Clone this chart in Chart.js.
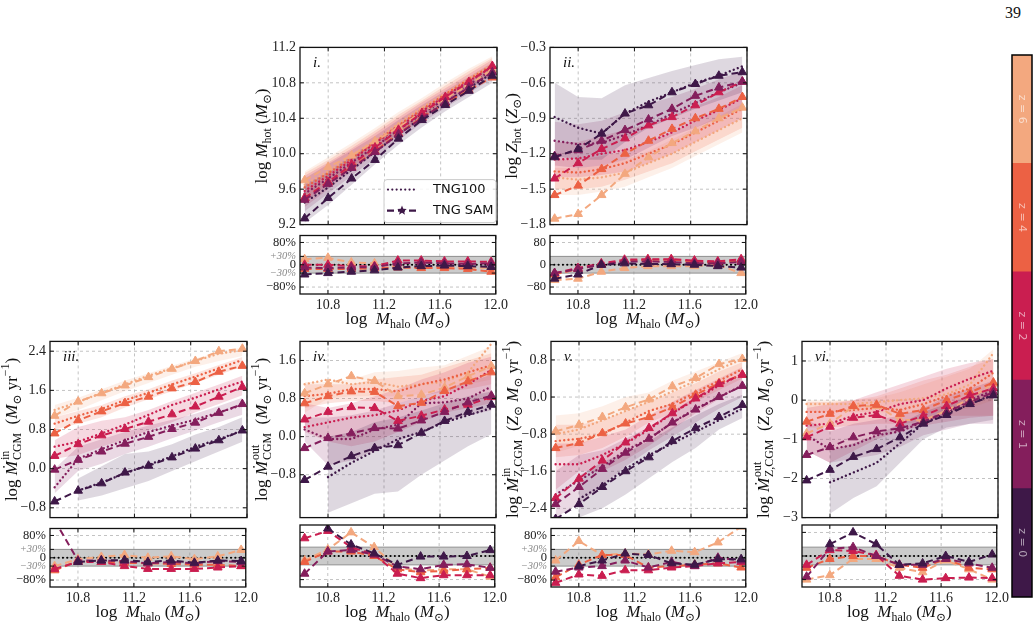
<!DOCTYPE html>
<html>
<head>
<meta charset="utf-8">
<script src="https://cdn.jsdelivr.net/npm/chart.js@4"></script>
<style>
  body { margin: 0; background: #fff; width: 1034px; height: 625px; overflow: hidden; position: relative; }
  canvas { position: absolute; }
  #page { position: absolute; left: 1005px; top: 4px; font: 16px "Liberation Serif", serif; color: #111; }
</style>
</head>
<body>
<div id="page">39</div>
<script>
// ---- data ----
const MHALO = [10.633, 10.8, 10.967, 11.133, 11.3, 11.467, 11.633, 11.8, 11.967];
const Z_LABELS = ["z = 0", "z = 1", "z = 2", "z = 4", "z = 6"];
const X_TICKS = [10.8, 11.2, 11.6, 12.0];
const RES_TICKS_PCT = [-80, -30, 0, 30, 80];
const RES_TICKS_NUM = [-80, 0, 80];
const RES_BAND = 30;

// i. hot gas mass
const MHOT_TICKS = [9.2, 9.6, 10.0, 10.4, 10.8, 11.2];
const MHOT_SAM = [
  [9.27, 9.50, 9.72, 9.93, 10.17, 10.38, 10.55, 10.71, 10.88],
  [9.48, 9.66, 9.84, 10.02, 10.22, 10.40, 10.58, 10.75, 10.92],
  [9.50, 9.68, 9.88, 10.07, 10.27, 10.46, 10.64, 10.81, 10.99],
  [9.50, 9.68, 9.85, 10.03, 10.23, 10.41, 10.57, 10.72, 10.86],
  [9.70, 9.85, 9.98, 10.14, 10.30, 10.47, 10.62, 10.78, 10.95]];
const MHOT_TNG = [
  [9.45, 9.62, 9.82, 10.02, 10.22, 10.41, 10.58, 10.74, 10.91],
  [9.55, 9.72, 9.90, 10.08, 10.27, 10.45, 10.62, 10.78, 10.95],
  [9.58, 9.75, 9.93, 10.12, 10.30, 10.48, 10.65, 10.82, 10.98],
  [9.62, 9.78, 9.95, 10.13, 10.32, 10.50, 10.67, 10.84, 11.00],
  [9.65, 9.80, 9.98, 10.15, 10.34, 10.52, 10.68, 10.85, 11.01]];
const MHOT_LO = [
  [9.22, 9.42, 9.65, 9.88, 10.10, 10.30, 10.48, 10.64, 10.80],
  [9.35, 9.55, 9.75, 9.95, 10.15, 10.35, 10.52, 10.68, 10.85],
  [9.40, 9.60, 9.80, 10.00, 10.20, 10.38, 10.56, 10.72, 10.88],
  [9.45, 9.65, 9.83, 10.02, 10.22, 10.40, 10.58, 10.74, 10.90],
  [9.50, 9.68, 9.86, 10.05, 10.24, 10.42, 10.60, 10.76, 10.92]];
const MHOT_HI = [
  [9.65, 9.80, 9.98, 10.15, 10.33, 10.50, 10.67, 10.83, 10.99],
  [9.72, 9.88, 10.04, 10.20, 10.38, 10.55, 10.71, 10.87, 11.03],
  [9.75, 9.90, 10.06, 10.23, 10.41, 10.58, 10.74, 10.90, 11.06],
  [9.78, 9.93, 10.09, 10.26, 10.44, 10.60, 10.77, 10.93, 11.08],
  [9.80, 9.96, 10.12, 10.29, 10.47, 10.63, 10.80, 10.96, 11.10]];
const MHOT_RES = [
  [-35, -30, -25, -20, -10, -5, -3, -5, -8],
  [-10, -12, -10, -8, 5, 8, 5, 3, 5],
  [0, 0, -5, -5, 15, 15, 12, 12, 10],
  [-15, -15, -15, -12, -10, -12, -12, -15, -25],
  [20, 25, 8, 5, -8, -10, -8, -10, -12]];

// ii. hot gas metallicity
const ZHOT_TICKS = [-1.8, -1.5, -1.2, -0.9, -0.6, -0.3];
const ZHOT_SAM = [
  [-1.23, -1.16, -1.03, -0.86, -0.79, -0.68, -0.61, -0.54, -0.51],
  [-1.22, -1.17, -1.09, -1.00, -0.91, -0.82, -0.71, -0.64, -0.59],
  [-1.41, -1.28, -1.16, -1.07, -0.96, -0.89, -0.79, -0.68, -0.59],
  [-1.55, -1.47, -1.33, -1.20, -1.09, -0.99, -0.90, -0.82, -0.72],
  [-1.75, -1.71, -1.55, -1.37, -1.23, -1.11, -1.01, -0.90, -0.81]];
const ZHOT_TNG = [
  [-0.89, -0.98, -1.03, -0.86, -0.76, -0.68, -0.60, -0.54, -0.46],
  [-1.09, -1.12, -1.11, -1.04, -0.96, -0.86, -0.77, -0.68, -0.60],
  [-1.25, -1.24, -1.20, -1.17, -1.10, -1.02, -0.92, -0.83, -0.73],
  [-1.35, -1.36, -1.33, -1.28, -1.20, -1.12, -1.02, -0.92, -0.82],
  [-1.40, -1.42, -1.40, -1.36, -1.28, -1.20, -1.10, -1.00, -0.90]];
const ZHOT_LO = [
  [-1.22, -1.25, -1.25, -1.10, -0.98, -0.90, -0.82, -0.75, -0.68],
  [-1.30, -1.32, -1.30, -1.25, -1.15, -1.05, -0.98, -0.90, -0.82],
  [-1.40, -1.40, -1.38, -1.35, -1.28, -1.20, -1.10, -1.00, -0.90],
  [-1.50, -1.50, -1.48, -1.42, -1.35, -1.28, -1.18, -1.08, -0.98],
  [-1.55, -1.55, -1.52, -1.48, -1.40, -1.32, -1.22, -1.12, -1.02]];
const ZHOT_HI = [
  [-0.60, -0.72, -0.73, -0.62, -0.56, -0.50, -0.45, -0.40, -0.38],
  [-0.93, -0.95, -0.92, -0.85, -0.78, -0.72, -0.65, -0.57, -0.50],
  [-1.10, -1.10, -1.05, -1.00, -0.95, -0.88, -0.80, -0.72, -0.62],
  [-1.25, -1.25, -1.22, -1.18, -1.10, -1.02, -0.92, -0.82, -0.72],
  [-1.32, -1.32, -1.30, -1.25, -1.18, -1.08, -0.98, -0.88, -0.78]];
const ZHOT_RES = [
  [-50, -35, 0, 5, 3, 2, 0, -5, -10],
  [-30, -15, 0, 12, 12, 10, 5, 5, 10],
  [-30, -12, 5, 18, 20, 20, 15, 12, 20],
  [-35, -15, 0, 15, 18, 18, 12, 8, 15],
  [-55, -50, -25, -12, -5, -5, -5, 0, -30]];

// iii. CGM inflow rate
const MIN_TICKS = [-0.8, 0.0, 0.8, 1.6, 2.4];
const MIN_SAM = [
  [-0.67, -0.45, -0.30, -0.08, 0.06, 0.23, 0.41, 0.58, 0.78],
  [-0.02, 0.18, 0.35, 0.51, 0.65, 0.81, 0.94, 1.14, 1.32],
  [0.26, 0.50, 0.68, 0.81, 0.96, 1.11, 1.27, 1.47, 1.67],
  [0.72, 0.99, 1.17, 1.34, 1.47, 1.64, 1.77, 1.98, 2.10],
  [1.08, 1.37, 1.54, 1.70, 1.87, 2.04, 2.20, 2.40, 2.45]];
const MIN_TNG = [
  [null, -0.45, -0.28, -0.10, 0.08, 0.25, 0.45, 0.60, 0.78],
  [-0.38, 0.20, 0.40, 0.58, 0.75, 0.88, 1.00, 1.15, 1.30],
  [0.45, 0.55, 0.72, 0.90, 1.10, 1.30, 1.45, 1.62, 1.78],
  [0.92, 1.08, 1.22, 1.40, 1.55, 1.72, 1.88, 2.05, 2.22],
  [1.20, 1.36, 1.55, 1.72, 1.90, 2.05, 2.20, 2.35, 2.42]];
const MIN_LO = [
  [null, -0.65, -0.55, -0.40, -0.25, -0.05, 0.15, 0.35, 0.55],
  [-0.50, -0.05, 0.10, 0.30, 0.45, 0.62, 0.78, 0.95, 1.10],
  [0.20, 0.28, 0.45, 0.60, 0.78, 0.95, 1.15, 1.32, 1.50],
  [0.80, 0.92, 1.05, 1.25, 1.42, 1.58, 1.75, 1.92, 2.08],
  [1.05, 1.20, 1.40, 1.58, 1.75, 1.92, 2.08, 2.20, 2.30]];
const MIN_HI = [
  [null, -0.20, 0.05, 0.30, 0.35, 0.50, 0.70, 0.85, 1.05],
  [0.00, 0.45, 0.60, 0.75, 0.88, 1.00, 1.12, 1.28, 1.45],
  [0.58, 0.85, 0.98, 1.05, 1.20, 1.38, 1.55, 1.72, 1.90],
  [1.05, 1.18, 1.30, 1.48, 1.62, 1.80, 1.95, 2.12, 2.28],
  [1.30, 1.45, 1.62, 1.80, 1.95, 2.10, 2.25, 2.38, 2.48]];
const MIN_RES = [
  [null, -15, -10, -8, -15, -10, -18, -10, -12],
  [135, -10, -10, -12, -20, -15, -20, -12, -15],
  [-40, -15, -15, -30, -40, -40, -40, -35, -30],
  [-45, -12, -15, -18, -20, -22, -25, -25, -30],
  [-30, -5, 3, 10, 0, 5, -5, 5, 28]];

// iv. CGM outflow rate
const MOUT_TICKS = [-0.8, 0.0, 0.8, 1.6];
const MOUT_SAM = [
  [-0.91, -0.63, -0.41, -0.24, -0.18, 0.08, 0.33, 0.52, 0.67],
  [-0.24, -0.03, 0.07, 0.18, 0.17, 0.34, 0.52, 0.72, 0.86],
  [0.36, 0.52, 0.62, 0.60, 0.33, 0.44, 0.57, 0.67, 0.83],
  [0.70, 0.85, 0.95, 0.94, 0.64, 0.71, 0.96, 1.16, 1.35],
  [0.91, 1.10, 1.27, 1.17, 0.85, 0.88, 1.03, 1.27, 1.48]];
const MOUT_TNG = [
  [null, -0.85, -0.55, -0.30, -0.05, 0.10, 0.30, 0.45, 0.60],
  [0.15, -0.05, -0.05, 0.15, 0.25, 0.70, 0.72, 0.80, 1.05],
  [0.20, 0.30, 0.40, 0.45, 0.55, 0.75, 0.85, 1.10, 1.40],
  [0.85, 0.90, 1.00, 1.00, 0.95, 1.10, 1.20, 1.35, 1.50],
  [1.10, 1.20, 1.10, 1.15, 1.05, 1.10, 1.15, 1.35, 1.95]];
const MOUT_LO = [
  [null, -1.60, -1.40, -1.20, -1.15, -0.80, -0.50, -0.20, 0.05],
  [-0.10, -0.60, -0.50, -0.30, -0.10, 0.10, 0.30, 0.45, 0.55],
  [0.10, -0.10, -0.20, -0.10, 0.10, 0.30, 0.50, 0.60, 0.70],
  [0.60, 0.70, 0.75, 0.75, 0.70, 0.85, 0.95, 1.00, 1.10],
  [0.50, 0.80, 0.85, 0.85, 0.85, 0.90, 1.00, 1.10, 1.20]];
const MOUT_HI = [
  [null, 0.00, 0.10, 0.30, 0.40, 0.55, 0.70, 0.85, 0.95],
  [0.40, 0.40, 0.45, 0.55, 0.70, 0.85, 1.00, 1.15, 1.30],
  [0.70, 0.60, 0.70, 0.85, 1.00, 1.20, 1.35, 1.55, 1.68],
  [1.10, 1.10, 1.10, 1.20, 1.25, 1.30, 1.45, 1.60, 1.75],
  [1.15, 1.15, 1.20, 1.35, 1.38, 1.45, 1.50, 1.70, 1.90]];
const MOUT_RES = [
  [null, 93, 39, 9, -30, -2, -2, 0, 20],
  [-60, 15, 20, 5, -35, -45, -30, -28, -40],
  [60, 85, 30, 5, -60, -75, -65, -65, -65],
  [-20, 15, 15, 0, -45, -55, -50, -45, -40],
  [-15, 22, 80, 30, -40, -50, -45, -45, -70]];

// v. CGM metal inflow rate
const MZIN_TICKS = [-2.4, -1.6, -0.8, 0.0, 0.8];
const MZIN_SAM = [
  [-2.63, -2.31, -1.94, -1.60, -1.30, -0.95, -0.67, -0.43, -0.17],
  [-2.31, -1.94, -1.55, -1.20, -0.90, -0.55, -0.27, 0.00, 0.24],
  [-2.18, -1.76, -1.37, -0.98, -0.67, -0.35, -0.03, 0.28, 0.48],
  [-1.10, -0.99, -0.78, -0.57, -0.43, -0.22, 0.05, 0.30, 0.48],
  [-0.74, -0.60, -0.43, -0.22, -0.05, 0.23, 0.41, 0.71, 0.82]];
const MZIN_TNG = [
  [null, -2.20, -1.90, -1.55, -1.25, -1.00, -0.75, -0.50, -0.25],
  [-2.10, -1.80, -1.50, -1.15, -0.90, -0.55, -0.25, 0.00, 0.25],
  [-1.45, -1.45, -1.25, -1.00, -0.70, -0.35, -0.05, 0.25, 0.50],
  [-0.95, -0.90, -0.80, -0.55, -0.30, -0.15, 0.10, 0.35, 0.60],
  [-0.80, -0.70, -0.50, -0.30, -0.10, 0.12, 0.35, 0.60, 0.82]];
const MZIN_LO = [
  [null, -2.60, -2.40, -2.10, -1.75, -1.40, -1.10, -0.70, -0.45],
  [-2.60, -2.30, -1.90, -1.50, -1.15, -0.85, -0.55, -0.25, 0.00],
  [-2.00, -1.60, -1.60, -1.35, -1.05, -0.70, -0.35, -0.05, 0.25],
  [-1.30, -1.25, -1.10, -0.85, -0.55, -0.35, -0.10, 0.15, 0.40],
  [-1.20, -1.05, -0.80, -0.55, -0.35, -0.15, 0.10, 0.35, 0.60]];
const MZIN_HI = [
  [null, -1.70, -1.40, -1.20, -0.95, -0.65, -0.40, -0.15, 0.05],
  [-1.60, -1.25, -1.15, -0.90, -0.65, -0.30, 0.00, 0.25, 0.45],
  [-1.00, -1.00, -0.85, -0.70, -0.40, -0.10, 0.15, 0.40, 0.65],
  [-0.60, -0.60, -0.50, -0.30, -0.10, 0.10, 0.30, 0.55, 0.75],
  [-0.40, -0.35, -0.20, 0.00, 0.10, 0.35, 0.55, 0.75, 0.95]];
const MZIN_RES = [
  [null, -30, -10, 15, 10, -20, -25, -5, -5],
  [-50, -35, -30, -10, -35, -15, -30, 0, -10],
  [-90, -60, -65, -45, -45, -35, -30, -20, -15],
  [-70, -25, 10, 10, -35, -30, -25, -20, -35],
  [-10, 60, 10, 15, 12, 25, 20, 55, 112]];

// vi. CGM metal outflow rate
const MZOUT_TICKS = [-3, -2, -1, 0, 1];
const MZOUT_SAM = [
  [-2.05, -1.78, -1.45, -1.25, -0.95, -0.60, -0.38, -0.10, 0.12],
  [-1.40, -1.20, -0.95, -0.80, -0.72, -0.55, -0.30, -0.05, 0.20],
  [-0.95, -0.68, -0.45, -0.38, -0.60, -0.40, -0.15, 0.12, 0.30],
  [-0.55, -0.35, -0.15, -0.12, -0.35, -0.25, 0.00, 0.20, 0.45],
  [-0.85, -0.60, -0.16, -0.15, -0.50, -0.52, -0.27, 0.04, 0.42]];
const MZOUT_TNG = [
  [null, -2.10, -1.85, -1.60, -1.10, -0.60, -0.35, -0.10, 0.15],
  [-0.90, -1.25, -1.15, -0.90, -0.80, -0.55, -0.30, 0.00, 0.25],
  [-0.65, -0.60, -0.40, -0.30, -0.10, 0.00, 0.30, 0.55, 0.75],
  [-0.30, -0.30, -0.25, -0.20, -0.25, -0.10, 0.10, 0.30, 0.70],
  [-0.10, -0.10, -0.10, -0.05, 0.00, 0.05, 0.15, 0.40, 1.20]];
const MZOUT_LO = [
  [null, -2.90, -2.50, -2.20, -1.60, -1.00, -0.70, -0.60, -0.50],
  [-1.30, -1.60, -1.50, -1.40, -1.20, -0.90, -0.75, -0.60, -0.60],
  [-1.30, -1.60, -1.30, -1.00, -0.80, -0.65, -0.55, -0.45, -0.40],
  [-0.70, -0.70, -0.65, -0.60, -0.60, -0.55, -0.40, -0.40, -0.40],
  [-0.30, -0.30, -0.30, -0.30, -0.35, -0.35, -0.30, -0.20, 0.00]];
const MZOUT_HI = [
  [null, -1.30, -1.10, -0.90, -0.60, -0.30, -0.10, 0.10, 0.35],
  [-0.50, -0.80, -0.60, -0.50, -0.40, -0.20, 0.10, 0.30, 0.50],
  [-0.20, -0.10, 0.00, 0.20, 0.40, 0.60, 0.80, 0.95, 1.05],
  [-0.05, -0.05, 0.00, 0.10, 0.30, 0.50, 0.65, 0.85, 1.05],
  [0.00, 0.00, 0.00, 0.05, 0.20, 0.40, 0.60, 0.80, 1.30]];
const MZOUT_RES = [
  [null, 40, 80, 40, -30, -25, 0, -20, 5],
  [-70, 25, 30, 0, -30, -30, -10, -25, -40],
  [-30, 20, 17, 3, -67, -80, -75, -73, -75],
  [-40, -10, 0, 0, -30, -40, -10, -40, -45],
  [-80, -65, -10, -10, -40, -55, -15, -45, -80]];

// ---- styling ----
const SERIF = '"Liberation Serif", "DejaVu Serif", serif';
const SANS = '"DejaVu Sans", sans-serif';
const Z_COLORS = ["#3e1848", "#841e5c", "#ca1e50", "#ec6144", "#f3a87f"];
const X_MIN = 10.6, X_MAX = 12.0, RES_MIN = -105, RES_MAX = 105;
const Y_AXIS_W = 62;
const DOTS = [0.01, 4.3], DASHES = [7, 4];

function rgba(hex, a) {
  const n = parseInt(hex.slice(1), 16);
  return `rgba(${n >> 16},${(n >> 8) & 255},${n & 255},${a})`;
}

const T = t => ({ k: "n", t }), I = t => ({ k: "i", t });
const SUB = t => ({ k: "sub", t }), SUP = t => ({ k: "sup", t });
const SS = (sup, sub) => ({ k: "ss", sup, sub });

function drawRich(ctx, segs, cx, cy, size, rot) {
  const font = (it, sz) => `${it ? "italic " : ""}${sz}px ${SERIF}`;
  const small = size * 0.7;
  ctx.save();
  ctx.translate(cx, cy);
  if (rot) ctx.rotate(rot);
  const widths = segs.map(s => {
    if (s.k === "ss") {
      ctx.font = font(false, small);
      return Math.max(ctx.measureText(s.sup).width, ctx.measureText(s.sub).width) + 1;
    }
    ctx.font = font(s.k === "i", s.k === "sub" || s.k === "sup" ? small : size);
    return ctx.measureText(s.t).width;
  });
  let x = -widths.reduce((a, b) => a + b, 0) / 2;
  const base = size * 0.33;
  ctx.fillStyle = "#111";
  ctx.textBaseline = "alphabetic";
  ctx.textAlign = "left";
  segs.forEach((s, i) => {
    if (s.k === "ss") {
      ctx.font = font(false, small);
      ctx.fillText(s.sup, x + 1, base - size * 0.45);
      ctx.fillText(s.sub, x + 1, base + size * 0.28);
    } else if (s.k === "sub") {
      ctx.font = font(false, small);
      ctx.fillText(s.t, x, base + size * 0.25);
    } else if (s.k === "sup") {
      ctx.font = font(false, small);
      ctx.fillText(s.t, x, base - size * 0.42);
    } else {
      ctx.font = font(s.k === "i", size);
      ctx.fillText(s.t, x, base);
    }
    x += widths[i];
  });
  ctx.restore();
}

const X_TITLE = [T("log  "), I("M"), SUB("halo"), T(" ("), I("M"), SUB("⊙"), T(")")];

const PANELS = [
  { tag: "i.", sam: MHOT_SAM, tng: MHOT_TNG, lo: MHOT_LO, hi: MHOT_HI, res: MHOT_RES,
    yMin: 9.2, yMax: 11.2, yTicks: MHOT_TICKS, dec: 1, resFmt: "pct", legend: true,
    box: [300, 45, 497, 229, 232, 294],
    title: [T("log "), I("M"), SUB("hot"), T(" ("), I("M"), SUB("⊙"), T(")")] },
  { tag: "ii.", sam: ZHOT_SAM, tng: ZHOT_TNG, lo: ZHOT_LO, hi: ZHOT_HI, res: ZHOT_RES,
    yMin: -1.8, yMax: -0.3, yTicks: ZHOT_TICKS, dec: 1, resFmt: "num",
    box: [550, 45, 747, 229, 232, 294],
    title: [T("log "), I("Z"), SUB("hot"), T(" ("), I("Z"), SUB("⊙"), T(")")] },
  { tag: "iii.", sam: MIN_SAM, tng: MIN_TNG, lo: MIN_LO, hi: MIN_HI, res: MIN_RES,
    yMin: -1.0, yMax: 2.6, yTicks: MIN_TICKS, dec: 1, resFmt: "pct",
    box: [50, 339, 247, 522, 525, 587],
    title: [T("log "), I("Ṁ"), SS("in", "CGM"), T("  ("), I("M"), SUB("⊙"), T(" yr"), SUP("−1"), T(")")] },
  { tag: "iv.", sam: MOUT_SAM, tng: MOUT_TNG, lo: MOUT_LO, hi: MOUT_HI, res: MOUT_RES,
    yMin: -1.7, yMax: 2.0, yTicks: MOUT_TICKS, dec: 1, resFmt: "none",
    box: [300, 339, 496, 522, 525, 587],
    title: [T("log "), I("Ṁ"), SS("out", "CGM"), T("  ("), I("M"), SUB("⊙"), T(" yr"), SUP("−1"), T(")")] },
  { tag: "v.", sam: MZIN_SAM, tng: MZIN_TNG, lo: MZIN_LO, hi: MZIN_HI, res: MZIN_RES,
    yMin: -2.6, yMax: 1.2, yTicks: MZIN_TICKS, dec: 1, resFmt: "pct",
    box: [551, 339, 747, 522, 525, 587],
    title: [T("log "), I("Ṁ"), SS("in", "Z,CGM"), T("  ("), I("Z"), SUB("⊙"), T(" "), I("M"), SUB("⊙"), T(" yr"), SUP("−1"), T(")")] },
  { tag: "vi.", sam: MZOUT_SAM, tng: MZOUT_TNG, lo: MZOUT_LO, hi: MZOUT_HI, res: MZOUT_RES,
    yMin: -3.0, yMax: 1.5, yTicks: MZOUT_TICKS, dec: 0, resFmt: "none",
    box: [802, 339, 998, 522, 525, 587],
    title: [T("log "), I("Ṁ"), SS("out", "Z,CGM"), T("  ("), I("Z"), SUB("⊙"), T(" "), I("M"), SUB("⊙"), T(" yr"), SUP("−1"), T(")")] }
];

function addCanvas(l, t, w, h) {
  const c = document.createElement("canvas");
  c.width = w; c.height = h;
  c.style.left = l + "px"; c.style.top = t + "px";
  c.style.width = w + "px"; c.style.height = h + "px";
  document.body.appendChild(c);
  return c;
}

const fmt = (v, dec) => (v < 0 ? "−" : "") + Math.abs(v).toFixed(dec);
function resLabel(v, mode) {
  if (mode === "num") return v < 0 ? "−" + (-v) : String(v);
  if (v === 0) return "0";
  if (v === 30) return "+30%";
  return (v < 0 ? "−" : "") + Math.abs(v) + "%";
}
const isBandTick = c => !!(c.tick && Math.abs(c.tick.value) === RES_BAND);

function seg(ctx, x1, y1, x2, y2) {
  ctx.beginPath(); ctx.moveTo(x1, y1); ctx.lineTo(x2, y2); ctx.stroke();
}

// dashed grid, black frame and inward ticks
function axesPlugin(yTicks, gridY, extra) {
  return {
    id: "axesBox",
    beforeDatasetsDraw(chart) {
      const { ctx, chartArea: a, scales } = chart;
      ctx.save();
      ctx.strokeStyle = "#b5b5b5"; ctx.lineWidth = 0.8; ctx.setLineDash([3, 3]);
      X_TICKS.forEach(v => { const x = scales.x.getPixelForValue(v); seg(ctx, x, a.top, x, a.bottom); });
      gridY.forEach(v => { const y = scales.y.getPixelForValue(v); seg(ctx, a.left, y, a.right, y); });
      ctx.restore();
    },
    afterDraw(chart) {
      const { ctx, chartArea: a, scales } = chart;
      ctx.save();
      ctx.strokeStyle = "#111"; ctx.lineWidth = 1;
      X_TICKS.forEach(v => {
        const x = scales.x.getPixelForValue(v);
        seg(ctx, x, a.bottom, x, a.bottom - 4); seg(ctx, x, a.top, x, a.top + 4);
      });
      yTicks.forEach(v => {
        const y = scales.y.getPixelForValue(v);
        seg(ctx, a.left, y, a.left + 4, y); seg(ctx, a.right, y, a.right - 4, y);
      });
      ctx.lineWidth = 1.3;
      ctx.strokeRect(a.left, a.top, a.right - a.left, a.bottom - a.top);
      ctx.restore();
      if (extra) extra(chart);
    }
  };
}

function drawLegend(ctx, a) {
  const w = 112, h = 43, x0 = a.right - w - 1, y0 = a.bottom - h - 2;
  ctx.save();
  ctx.fillStyle = "rgba(255,255,255,0.85)";
  ctx.strokeStyle = "#cccccc"; ctx.lineWidth = 1;
  ctx.beginPath();
  ctx.roundRect(x0, y0, w, h, 3);
  ctx.fill(); ctx.stroke();
  const c = Z_COLORS[0];
  ctx.strokeStyle = c; ctx.lineWidth = 2.2;
  ctx.setLineDash(DOTS); ctx.lineCap = "round";
  seg(ctx, x0 + 4, y0 + 10, x0 + 32, y0 + 10);
  ctx.lineCap = "butt"; ctx.setLineDash(DASHES);
  seg(ctx, x0 + 3, y0 + 31, x0 + 33, y0 + 31);
  ctx.setLineDash([]);
  // star marker
  ctx.fillStyle = c;
  ctx.beginPath();
  for (let k = 0; k < 10; k++) {
    const r = k % 2 ? 2.2 : 5, ang = -Math.PI / 2 + k * Math.PI / 5;
    const px = x0 + 18 + r * Math.cos(ang), py = y0 + 31 + r * Math.sin(ang);
    k ? ctx.lineTo(px, py) : ctx.moveTo(px, py);
  }
  ctx.closePath(); ctx.fill();
  ctx.fillStyle = "#111"; ctx.font = `13px ${SANS}`;
  ctx.textBaseline = "middle"; ctx.textAlign = "left";
  ctx.fillText("TNG100", x0 + 49, y0 + 10);
  ctx.fillText("TNG SAM", x0 + 49, y0 + 31);
  ctx.restore();
}

function pts(arr, z) { return MHALO.map((x, k) => ({ x, y: arr[z][k] })); }

function samStyle(z) {
  return { borderColor: Z_COLORS[z], borderWidth: 2, borderDash: DASHES,
    pointStyle: "triangle", pointRadius: 5, pointBackgroundColor: Z_COLORS[z],
    pointBorderColor: Z_COLORS[z], pointBorderWidth: 1, fill: false, order: z };
}

function buildMain(p) {
  const [L, T0, R, B] = p.box;
  const padT = 10, padB = 8, padR = 10;
  const cv = addCanvas(L - Y_AXIS_W, T0 - padT, R - L + Y_AXIS_W + padR, B - T0 + padT + padB);
  const ds = [];
  for (let z = 0; z < 5; z++) {
    ds.push({ data: pts(p.lo, z), borderWidth: 0, borderColor: "rgba(0,0,0,0)", pointRadius: 0, fill: false, order: 30 });
    ds.push({ data: pts(p.hi, z), borderWidth: 0, borderColor: "rgba(0,0,0,0)", pointRadius: 0,
      fill: "-1", backgroundColor: rgba(Z_COLORS[z], 0.17), order: 30 });
  }
  for (let z = 0; z < 5; z++) {
    ds.push({ data: pts(p.tng, z), borderColor: Z_COLORS[z], borderWidth: 2.4, borderDash: DOTS,
      borderCapStyle: "round", pointRadius: 0, fill: false, order: 10 + z });
  }
  for (let z = 0; z < 5; z++) ds.push({ data: pts(p.sam, z), ...samStyle(z) });
  new Chart(cv, {
    type: "line",
    data: { datasets: ds },
    options: {
      responsive: false, animation: false, devicePixelRatio: 1,
      clip: 0,
      layout: { padding: { left: 0, top: padT, right: padR, bottom: padB } },
      plugins: { legend: { display: false }, tooltip: { enabled: false } },
      scales: {
        x: { type: "linear", display: false, min: X_MIN, max: X_MAX },
        y: {
          type: "linear", min: p.yMin, max: p.yMax,
          afterFit: s => { s.width = Y_AXIS_W; },
          afterBuildTicks: s => { s.ticks = p.yTicks.map(v => ({ value: v })); },
          grid: { display: false, drawTicks: false }, border: { display: false },
          ticks: { autoSkip: false, padding: 4, color: "#222", font: { family: SERIF, size: 14 },
            callback: v => fmt(v, p.dec) }
        }
      }
    },
    plugins: [axesPlugin(p.yTicks, p.yTicks, chart => {
      const { ctx, chartArea: a } = chart;
      ctx.save();
      ctx.font = `italic 15px ${SERIF}`; ctx.fillStyle = "#111";
      ctx.textBaseline = "alphabetic";
      ctx.fillText(p.tag, a.left + 13, a.top + 20);
      ctx.restore();
      drawRich(ctx, p.title, a.left - 39, (a.top + a.bottom) / 2, 17, -Math.PI / 2);
      if (p.legend) drawLegend(ctx, a);
    })]
  });
}

function buildRes(p) {
  const [L, , R, , RT, RB] = p.box;
  const padT = 8, padR = 14, xAxisH = 40;
  const cv = addCanvas(L - Y_AXIS_W, RT - padT, R - L + Y_AXIS_W + padR, RB - RT + padT + xAxisH);
  const band = v => [{ x: X_MIN, y: v }, { x: X_MAX, y: v }];
  const ds = [
    { data: band(-RES_BAND), borderColor: "#8f8f8f", borderWidth: 1, pointRadius: 0, fill: false, order: 40 },
    { data: band(RES_BAND), borderColor: "#8f8f8f", borderWidth: 1, pointRadius: 0, fill: "-1",
      backgroundColor: "rgba(140,140,140,0.45)", order: 40 },
    { data: band(0), borderColor: "#000", borderWidth: 2.2, borderDash: DOTS, borderCapStyle: "round",
      pointRadius: 0, fill: false, order: 20 }
  ];
  for (let z = 0; z < 5; z++) ds.push({ data: pts(p.res, z), ...samStyle(z) });
  const yTicks = p.resFmt === "pct" ? RES_TICKS_PCT : RES_TICKS_NUM;
  new Chart(cv, {
    type: "line",
    data: { datasets: ds },
    options: {
      responsive: false, animation: false, devicePixelRatio: 1,
      clip: 0,
      layout: { padding: { left: 0, top: padT, right: padR, bottom: 0 } },
      plugins: { legend: { display: false }, tooltip: { enabled: false } },
      scales: {
        x: {
          type: "linear", min: X_MIN, max: X_MAX,
          afterFit: s => { s.height = xAxisH; },
          afterBuildTicks: s => { s.ticks = X_TICKS.map(v => ({ value: v })); },
          grid: { display: false, drawTicks: false }, border: { display: false },
          ticks: { autoSkip: false, maxRotation: 0, padding: 3, color: "#222",
            font: { family: SERIF, size: 14 }, callback: v => v.toFixed(1) }
        },
        y: {
          type: "linear", min: RES_MIN, max: RES_MAX,
          afterFit: s => { s.width = Y_AXIS_W; },
          afterBuildTicks: s => { s.ticks = yTicks.map(v => ({ value: v })); },
          grid: { display: false, drawTicks: false }, border: { display: false },
          ticks: {
            display: p.resFmt !== "none", autoSkip: false, padding: 4,
            color: c => isBandTick(c) ? "#888" : "#222",
            font: c => isBandTick(c)
              ? { family: SERIF, size: 10.5, style: "italic" }
              : { family: SERIF, size: 12.5 },
            callback: v => resLabel(v, p.resFmt)
          }
        }
      }
    },
    plugins: [axesPlugin(yTicks, RES_TICKS_NUM, chart => {
      const a = chart.chartArea;
      drawRich(chart.ctx, X_TITLE, (a.left + a.right) / 2, a.bottom + 24, 17, 0);
    })]
  });
}

PANELS.forEach(p => { buildMain(p); buildRes(p); });

// colour bar for redshift
const cbCanvas = addCanvas(1010, 53, 24, 546);
new Chart(cbCanvas, {
  type: "bar",
  data: {
    labels: [""],
    datasets: Z_LABELS.map((l, z) => ({ label: l, data: [1], backgroundColor: Z_COLORS[z],
      borderWidth: 0, categoryPercentage: 1, barPercentage: 1 }))
  },
  options: {
    responsive: false, animation: false, devicePixelRatio: 1,
    layout: { padding: 2 },
    plugins: { legend: { display: false }, tooltip: { enabled: false } },
    scales: {
      x: { display: false, stacked: true },
      y: { display: false, stacked: true, min: 0, max: Z_LABELS.length }
    }
  },
  plugins: [{
    id: "cbText",
    afterDraw(chart) {
      const { ctx, chartArea: a } = chart;
      ctx.save();
      ctx.font = `11px ${SANS}`;
      ctx.fillStyle = "rgba(255,255,255,0.6)";
      ctx.textAlign = "center"; ctx.textBaseline = "middle";
      chart.data.datasets.forEach((d, i) => {
        const el = chart.getDatasetMeta(i).data[0];
        ctx.save();
        ctx.translate((a.left + a.right) / 2, (el.y + el.base) / 2);
        ctx.rotate(Math.PI / 2);
        ctx.fillText(d.label, 0, 0);
        ctx.restore();
      });
      ctx.strokeStyle = "#000"; ctx.lineWidth = 1.5;
      ctx.strokeRect(a.left, a.top, a.right - a.left, a.bottom - a.top);
      ctx.restore();
    }
  }]
});
</script>
</body>
</html>
